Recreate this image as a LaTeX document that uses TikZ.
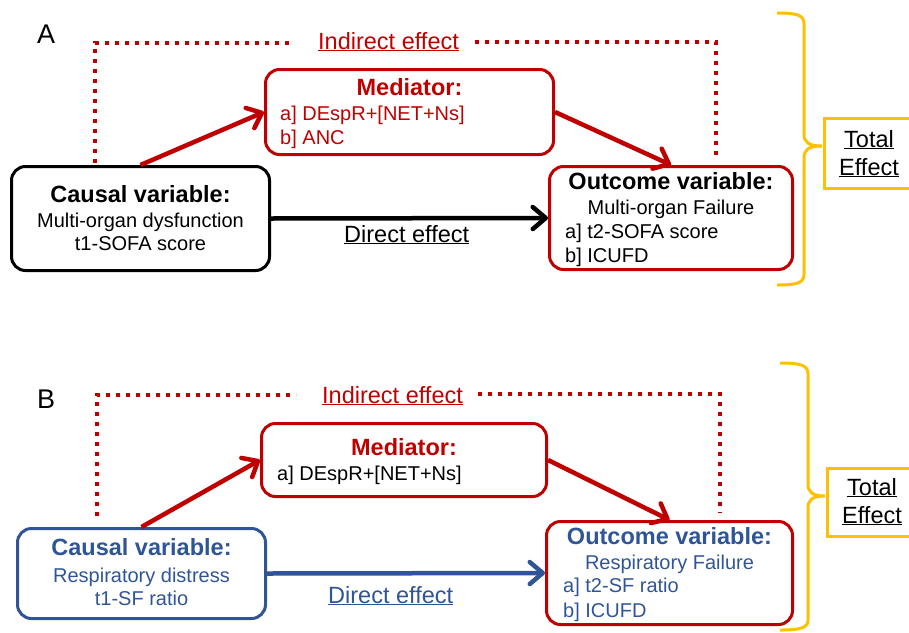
\documentclass[tikz,border=0pt]{standalone}
\usepackage{fontspec}
\setmainfont{Liberation Sans}
\usetikzlibrary{arrows.meta}
\definecolor{darkred}{HTML}{C00000}
\definecolor{steelblue}{HTML}{2F5597}
\definecolor{gold}{HTML}{FFC000}
\newcommand{\ulabel}[1]{\underline{#1}}

\begin{document}
\begin{tikzpicture}[x=1pt,y=-1pt,
  box/.style={draw, line width=3pt, rounded corners=14pt, inner sep=0pt, anchor=north west},
  body/.style={font=\fontsize{20}{23}\selectfont, anchor=base, inner sep=0pt},
  bodyl/.style={body, anchor=base west},
  title/.style={font=\fontsize{23.5}{27}\selectfont\bfseries, anchor=base, inner sep=0pt},
  lab/.style={font=\fontsize{23.5}{27}\selectfont, anchor=base west, inner sep=0pt},
  panel/.style={font=\fontsize{27}{30}\selectfont, anchor=base west, inner sep=0pt},
  arr/.style={line width=4.5pt, -{Straight Barb[length=13pt,width=22pt,round]}},
  dots/.style={darkred, line width=4pt, dash pattern=on 4pt off 6pt},
  brace/.style={gold, line width=3pt},
  totbox/.style={draw=gold, line width=3pt, inner sep=0pt, anchor=north west,
    minimum width=110pt}
]
\useasboundingbox (0,0) rectangle (909,632);
\clip (0,0) rectangle (909,632);

% ---------------- Panel A ----------------
\node[panel] (labA) at (37,43) {A};

\node[box, draw=darkred, minimum width=288pt, minimum height=85pt] (medA) at (264,68) {};
\node[box, draw=black, minimum width=258pt, minimum height=104pt] (cauA) at (10,165) {};
\node[box, draw=darkred, minimum width=243pt, minimum height=103pt] (outA) at (548,165) {};

\node[title, text=darkred] (medAt) at (medA.center |- 0,95) {Mediator:};
\node[bodyl, text=darkred] (medAa) at (280,120) {a] DEspR+[NET+Ns]};
\node[bodyl, text=darkred] (medAb) at (280,144) {b] ANC};

\node[title] (cauAt) at (cauA.center |- 0,202) {Causal variable:};
\node[body] (cauAa) at (cauA.center |- 0,227) {Multi-organ dysfunction};
\node[body] (cauAb) at (cauA.center |- 0,250) {t1-SOFA score};

\node[title] (outAt) at (outA.center |- 0,189) {Outcome variable:};
\node[body] (outAa) at (outA.center |- 0,214) {Multi-organ Failure};
\node[bodyl] (outAb) at (565,238) {a] t2-SOFA score};
\node[bodyl] (outAc) at (565,262) {b] ICUFD};

\draw[arr, darkred] (cauA.north) -- (medA.west);
\draw[arr, darkred] (medA.east) -- (outA.north);
\draw[arr, black] (cauA.east) -- (outA.west);
\node[lab] (dirA) at (344,242) {\ulabel{Direct effect}};

\node[lab, text=darkred] (indA) at (318,49) {\ulabel{Indirect effect}};
\coordinate (iA1) at (95,163);
\coordinate (iA2) at (95,43);
\coordinate (iA3) at (292,43);
\coordinate (iA4) at (475,42);
\coordinate (iA5) at (716,42);
\coordinate (iA6) at (716,158);
\draw[dots] (iA1) -- (iA2) -- (iA3);
\draw[dots] (iA4) -- (iA5) -- (iA6);

\coordinate (tipA) at (822,146);
\draw[brace] (777,13) .. controls (797,13) and (804,15) .. (804,24) -- (804,134)
  .. controls (804,142) and (808,146) .. (tipA)
  .. controls (808,146) and (804,150) .. (804,158) -- (804,274)
  .. controls (804,283) and (797,285) .. (777,285);
\node[totbox, minimum height=70pt] (totA) at (823,117) {};
\node[body, font=\fontsize{23.5}{27}\selectfont] (totAa) at (869,147) {\ulabel{Total}};
\node[body, font=\fontsize{23.5}{27}\selectfont] (totAb) at (869,175) {\ulabel{Effect}};

% ---------------- Panel B ----------------
\node[panel] (labB) at (37,408) {B};

\node[box, draw=darkred, minimum width=285pt, minimum height=73pt] (medB) at (260,422) {};
\node[box, draw=steelblue, minimum width=248pt, minimum height=90pt] (cauB) at (16,527) {};
\node[box, draw=darkred, minimum width=246pt, minimum height=103pt] (outB) at (545,520) {};

\node[title, text=darkred] (medBt) at (medB.center |- 0,455) {Mediator:};
\node[bodyl] (medBa) at (277,480) {a] DEspR+[NET+Ns]};

\node[title, text=steelblue] (cauBt) at (cauB.center |- 0,555) {Causal variable:};
\node[body, text=steelblue] (cauBa) at (cauB.center |- 0,582) {Respiratory distress};
\node[body, text=steelblue] (cauBb) at (cauB.center |- 0,605) {t1-SF ratio};

\node[title, text=steelblue] (outBt) at (outB.center |- 0,544) {Outcome variable:};
\node[body, text=steelblue] (outBa) at (outB.center |- 0,569) {Respiratory Failure};
\node[bodyl, text=steelblue] (outBb) at (563,592) {a] t2-SF ratio};
\node[bodyl, text=steelblue] (outBc) at (563,617) {b] ICUFD};

\draw[arr, darkred] (cauB.north) -- (medB.west);
\draw[arr, darkred] (medB.east) -- (outB.north);
\draw[arr, steelblue] (cauB.east) -- (outB.west);
\node[lab, text=steelblue] (dirB) at (328,603) {\ulabel{Direct effect}};

\node[lab, text=darkred] (indB) at (322,403) {\ulabel{Indirect effect}};
\coordinate (iB1) at (97,516);
\coordinate (iB2) at (97,395);
\coordinate (iB3) at (296,395);
\coordinate (iB4) at (478,394);
\coordinate (iB5) at (720,394);
\coordinate (iB6) at (720,513);
\draw[dots] (iB1) -- (iB2) -- (iB3);
\draw[dots] (iB4) -- (iB5) -- (iB6);

\coordinate (tipB) at (825,496);
\draw[brace] (780,363) .. controls (800,363) and (808,365) .. (808,374) -- (808,484)
  .. controls (808,492) and (812,496) .. (tipB)
  .. controls (812,496) and (808,500) .. (808,508) -- (808,620)
  .. controls (808,628) and (800,630) .. (780,630);
\node[totbox, minimum height=68pt] (totB) at (826,467) {};
\node[body, font=\fontsize{23.5}{27}\selectfont] (totBa) at (872,495) {\ulabel{Total}};
\node[body, font=\fontsize{23.5}{27}\selectfont] (totBb) at (872,523) {\ulabel{Effect}};
\end{tikzpicture}
\end{document}
